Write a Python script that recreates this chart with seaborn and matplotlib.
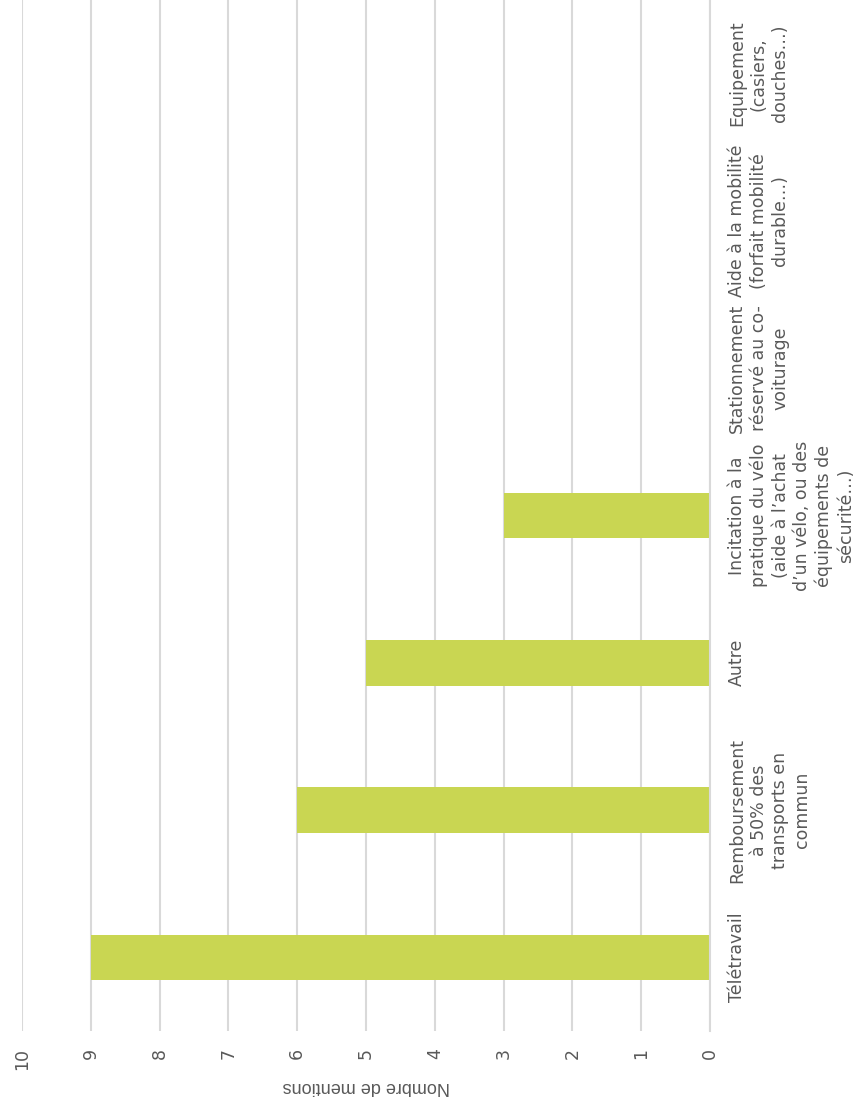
import pandas as pd
import matplotlib.pyplot as plt
import seaborn as sns

# Data
categories = [
    "Télétravail",
    "Remboursement\nà 50% des\ntransports en\ncommun",
    "Autre",
    "Incitation à la\npratique du vélo\n(aide à l’achat\nd’un vélo, ou des\néquipements de\nsécurité…)",
    "Stationnement\nréservé au co-\nvoiturage",
    "Aide à la mobilité\n(forfait mobilité\ndurable…)",
    "Equipement\n(casiers,\ndouches…)",
]
mentions = [9, 6, 5, 3, 0, 0, 0]
value_ticks = [0, 1, 2, 3, 4, 5, 6, 7, 8, 9, 10]

df = pd.DataFrame({"categorie": categories, "mentions": mentions})

sns.set_style("white")
plt.rcParams['font.family'] = ['DejaVu Sans']
text_col = "#595959"

fig = plt.figure(figsize=(8.56, 11.08), dpi=100)
ax = fig.add_axes([22 / 856, 77 / 1108, (710 - 22) / 856, 1031 / 1108])

# chart is drawn rotated: Télétravail at the bottom, values growing to the left
sns.barplot(data=df, x="mentions", y="categorie", order=categories[::-1],
            orient="h", color="#C9D652", width=0.31, saturation=1,
            linewidth=0, ax=ax)

ax.set_xlim(10, 0)
ax.set_xticks(value_ticks)
ax.set_xticklabels([str(v) for v in value_ticks], rotation=90, fontsize=12.5, color=text_col)
ax.xaxis.grid(True, color="#D9D9D9", linewidth=1.5)
ax.set_axisbelow(True)

ax.yaxis.tick_right()
ax.tick_params(axis="y", length=0, pad=13)
ax.tick_params(axis="x", length=0, pad=12)
for lab in ax.get_yticklabels():
    lab.set_rotation(90)
    lab.set_multialignment("center")
    lab.set_verticalalignment("center")
    lab.set_fontsize(12.5)
    lab.set_color(text_col)
    lab.set_linespacing(1.25)

ax.set_ylabel("")
ax.set_xlabel("Nombre de mentions", rotation=180, fontsize=13, color=text_col,
              labelpad=6, family=["Liberation Sans"])

for side in ["top", "left", "bottom"]:
    ax.spines[side].set_visible(False)
ax.spines["right"].set_color("#D9D9D9")
ax.spines["right"].set_linewidth(1.5)

plt.savefig("out.png", dpi=100)
